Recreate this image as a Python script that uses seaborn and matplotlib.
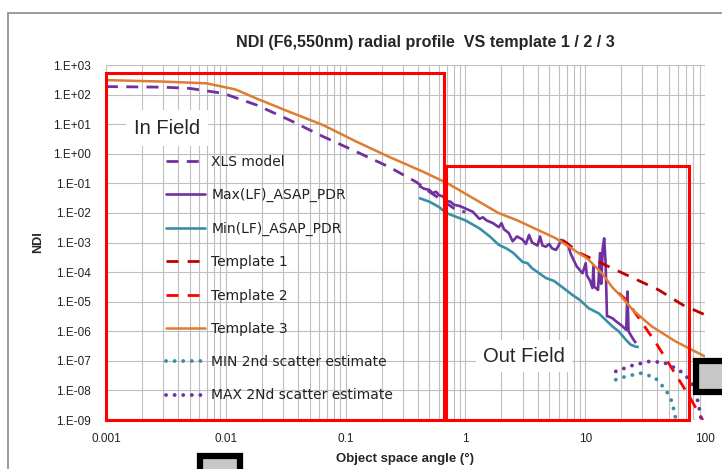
import numpy as np
import pandas as pd
import matplotlib
matplotlib.use("Agg")
import matplotlib.pyplot as plt
import seaborn as sns
from matplotlib.patches import Rectangle
from matplotlib.lines import Line2D

# ---------------- data ----------------
xls_x = [0.001, 0.003, 0.005, 0.0095, 0.018, 0.034, 0.065, 0.123, 0.23, 0.39, 0.5, 0.84, 1.0]
xls_y = [186, 178, 162, 110, 44.7, 13.8, 3.8, 1.17, 0.36, 0.11, 0.052, 0.0126, 0.0107]

t3_x = [0.001, 0.003, 0.0069, 0.012, 0.018, 0.034, 0.065, 0.123, 0.23, 0.44, 0.71, 1.9, 2.66,
        5.7, 10.5, 13.8, 16.9, 20, 25, 36, 57, 100]
t3_y = [309, 275, 240, 150, 74, 26, 9.3, 2.57, 0.79, 0.25, 0.1, 9.8e-3, 5.8e-3,
        1.38e-3, 2.8e-4, 9.1e-5, 3.0e-5, 1.5e-5, 5.2e-6, 1.45e-6, 4.5e-7, 1.4e-7]

t1_x = [6.5, 9.0, 41, 65, 100]
t1_y = [1.2e-3, 4.4e-4, 2.5e-5, 7.8e-6, 3.6e-6]

t2_x = [19, 22, 39, 74, 92, 96]
t2_y = [1.95e-5, 1.15e-5, 4.0e-7, 6.3e-9, 1.3e-9, 1.0e-9]

max_x = [0.41, 0.45, 0.5, 0.53, 0.57, 0.6, 0.65, 0.69, 0.75, 0.8, 0.9, 1.0, 1.15, 1.31, 1.4,
         1.5, 1.7, 1.9, 2.0, 2.1, 2.3, 2.48, 2.7, 3.0, 3.2, 3.4, 3.6, 4.0, 4.2, 4.4, 4.7,
         5.0, 5.3, 5.7, 6.0, 6.3, 6.8, 7.1, 7.6, 8.5, 9.5, 10.1, 10.3, 11.0, 11.5, 11.7,
         11.9, 12.8, 13.3, 13.6, 14.0, 14.4, 14.8, 15.2, 15.5, 16.9, 18, 20, 22, 22.5, 23,
         25, 26.5]
max_y = [0.083, 0.066, 0.06, 0.047, 0.052, 0.04, 0.036, 0.025, 0.024, 0.019, 0.017, 0.0141,
         0.011, 0.0063, 0.0071, 0.0056, 0.0045, 0.0033, 0.0045, 0.0028, 0.0021, 0.0011,
         0.0016, 0.00126, 0.00089, 0.0018, 0.001, 0.00079, 0.0016, 0.00079, 0.00072,
         0.00089, 0.00063, 0.00056, 0.00079, 0.00123, 0.001, 0.00095, 0.0004, 0.000155,
         0.000091, 0.0002, 0.000079, 0.00005, 0.000029, 0.000155, 0.000032, 0.000025,
         0.00044, 0.00004, 0.00063, 0.00138, 0.0002, 3.2e-6, 3.2e-6, 2.75e-6, 2.2e-6,
         1.6e-6, 1.12e-6, 2.2e-5, 1.0e-6, 5.6e-7, 4.0e-7]

min_x = [0.41, 0.5, 0.6, 0.69, 0.8, 1.0, 1.31, 1.6, 1.9, 2.2, 2.5, 3.0, 3.3, 3.6, 4.7, 5.5,
         6.9, 7.8, 9.0, 10.7, 13, 16.9, 19, 22, 24, 26.5, 28]
min_y = [0.032, 0.024, 0.016, 0.01, 0.0079, 0.0056, 0.003, 0.0016, 0.00083, 0.00063, 0.00045,
         0.00022, 0.0002, 0.000135, 0.000063, 0.00005, 0.000025, 0.000017, 0.0000115, 6.0e-6,
         4.0e-6, 1.45e-6, 1.0e-6, 5.0e-7, 3.5e-7, 3.0e-7, 2.95e-7]

max2_x = [18, 25, 34, 45, 53, 65, 74, 83, 89, 92, 95]
max2_y = [4.4e-8, 7.1e-8, 9.5e-8, 8.9e-8, 6.5e-8, 4.0e-8, 2.3e-8, 1.0e-8, 2.9e-9, 1.26e-9, 1.0e-9]

min2_x = [18, 22, 29, 38, 47, 52, 55, 57, 58]
min2_y = [2.3e-8, 3.0e-8, 3.8e-8, 2.8e-8, 1.05e-8, 5.0e-9, 2.2e-9, 1.07e-9, 1.0e-9]

in_field_x = [0.001, 0.66]
in_field_y = [1e-9, 540]
out_field_x = [0.69, 74]
out_field_y = [1e-9, 0.39]

xticks = [0.001, 0.01, 0.1, 1, 10, 100]
xtick_labels = ["0.001", "0.01", "0.1", "1", "10", "100"]
yticks = [1e3, 1e2, 1e1, 1e0, 1e-1, 1e-2, 1e-3, 1e-4, 1e-5, 1e-6, 1e-7, 1e-8, 1e-9]
ytick_labels = ["1.E+03", "1.E+02", "1.E+01", "1.E+00", "1.E-01", "1.E-02", "1.E-03",
                "1.E-04", "1.E-05", "1.E-06", "1.E-07", "1.E-08", "1.E-09"]

# ---------------- figure ----------------
sns.set_style("white")
plt.rcParams["font.family"] = ["DejaVu Sans"]

W, H = 722, 469
fig = plt.figure(figsize=(W / 100, H / 100), dpi=100)
ax = fig.add_axes([106 / W, 1 - 420 / H, (705 - 106) / W, (420 - 65) / H])

ax.set_xscale("log")
ax.set_yscale("log")
ax.set_xlim(0.001, 100)
ax.set_ylim(1e-9, 1e3)

grid_c = "#bfbfbf"
ax.grid(True, which="major", axis="both", color=grid_c, lw=0.8)
ax.grid(True, which="minor", axis="x", color=grid_c, lw=0.8)
ax.yaxis.set_minor_locator(matplotlib.ticker.NullLocator())
for s in ax.spines.values():
    s.set_visible(False)

purple = "#7030A0"
teal = "#3A8FA6"
orange = "#DE7C34"
dred = "#C00000"
red = "#FF0000"

series = [
    ("XLS model", xls_x, xls_y, purple, 2.0, (4.3, 3.0), "butt"),
    ("Max(LF)_ASAP_PDR", max_x, max_y, purple, 1.9, None, "butt"),
    ("Min(LF)_ASAP_PDR", min_x, min_y, teal, 1.9, None, "butt"),
    ("Template 1", t1_x, t1_y, dred, 2.0, (4.3, 3.3), "butt"),
    ("Template 2", t2_x, t2_y, red, 2.0, (4.3, 3.3), "butt"),
    ("Template 3", t3_x, t3_y, orange, 1.8, None, "butt"),
    ("MIN 2nd scatter estimate", min2_x, min2_y, teal, 2.8, (0.01, 2.2), "round"),
    ("MAX 2Nd scatter estimate", max2_x, max2_y, purple, 2.8, (0.01, 2.2), "round"),
]

handles = []
for name, xs, ys, col, lw, dash, cap in series:
    df = pd.DataFrame({"x": xs, "y": ys})
    sns.lineplot(data=df, x="x", y="y", ax=ax, color=col, lw=lw, sort=False,
                 estimator=None, legend=False)
    ln = ax.lines[-1]
    if dash is not None:
        ln.set_dashes(dash)
    ln.set_dash_capstyle(cap)
    ln.set_solid_capstyle("butt")
    ln.set_solid_joinstyle("round")
    h = Line2D([], [], color=col, lw=lw)
    if dash is not None:
        h.set_dashes(dash)
    h.set_dash_capstyle(cap)
    handles.append((h, name))

# red field boxes
for bx, by in [(in_field_x, in_field_y), (out_field_x, out_field_y)]:
    ax.add_patch(Rectangle((bx[0], by[0]), bx[1] - bx[0], by[1] - by[0], fill=False,
                           ec="#FF0000", lw=2.2, clip_on=False, zorder=5))

ax.text(0.102, 0.822, "In Field", transform=ax.transAxes, ha="center", va="center",
        fontsize=14.5, family="Liberation Sans", zorder=6,
        bbox=dict(fc="white", ec="none", pad=6))
ax.text(0.698, 0.18, "Out Field", transform=ax.transAxes, ha="center", va="center",
        fontsize=14.5, family="Liberation Sans", zorder=6,
        bbox=dict(fc="white", ec="none", pad=5))

ax.set_xticks(xticks)
ax.set_xticklabels(xtick_labels)
ax.set_yticks(yticks)
ax.set_yticklabels(ytick_labels)
ax.tick_params(axis="both", which="both", length=0, labelsize=8.5, colors="#222222")
ax.tick_params(axis="y", pad=11)
ax.tick_params(axis="x", pad=9)
for lab in ax.get_xticklabels() + ax.get_yticklabels():
    lab.set_family("Liberation Sans")

ax.set_xlabel("Object space angle (°)", fontsize=9.5, fontweight="bold",
              family="Liberation Sans", labelpad=6)
ax.set_ylabel("NDI", fontsize=9, fontweight="bold", family="Liberation Sans",
              labelpad=6)

fig.text(425 / W, 1 - 42 / H, "NDI (F6,550nm) radial profile  VS template 1 / 2 / 3",
         ha="center", va="center", fontsize=11.6, fontweight="bold",
         family="Liberation Sans")

leg = ax.legend([h for h, _ in handles], [n for _, n in handles], loc="upper left",
                bbox_to_anchor=(166 / W, 1 - 155 / H), bbox_transform=fig.transFigure,
                frameon=False, fontsize=10, handlelength=2.8, handletextpad=0.45,
                labelspacing=1.39, borderpad=0, borderaxespad=0)
for t in leg.get_texts():
    t.set_color("#222222")

# chart frame and selection handles (decorations)
def px_rect(x0, y0, x1, y1, **kw):
    fig.add_artist(Rectangle((x0 / W, 1 - y1 / H), (x1 - x0) / W, (y1 - y0) / H,
                             transform=fig.transFigure, **kw))

px_rect(8, 13, 740, 490, fill=False, ec="#8a8a8a", lw=1.2)
px_rect(696, 361, 740, 392, fc="#c8c8c8", ec="black", lw=4.5, zorder=10)
px_rect(200, 456, 240, 490, fc="#c8c8c8", ec="black", lw=4.5, zorder=10)

fig.savefig("out.png", dpi=100)
